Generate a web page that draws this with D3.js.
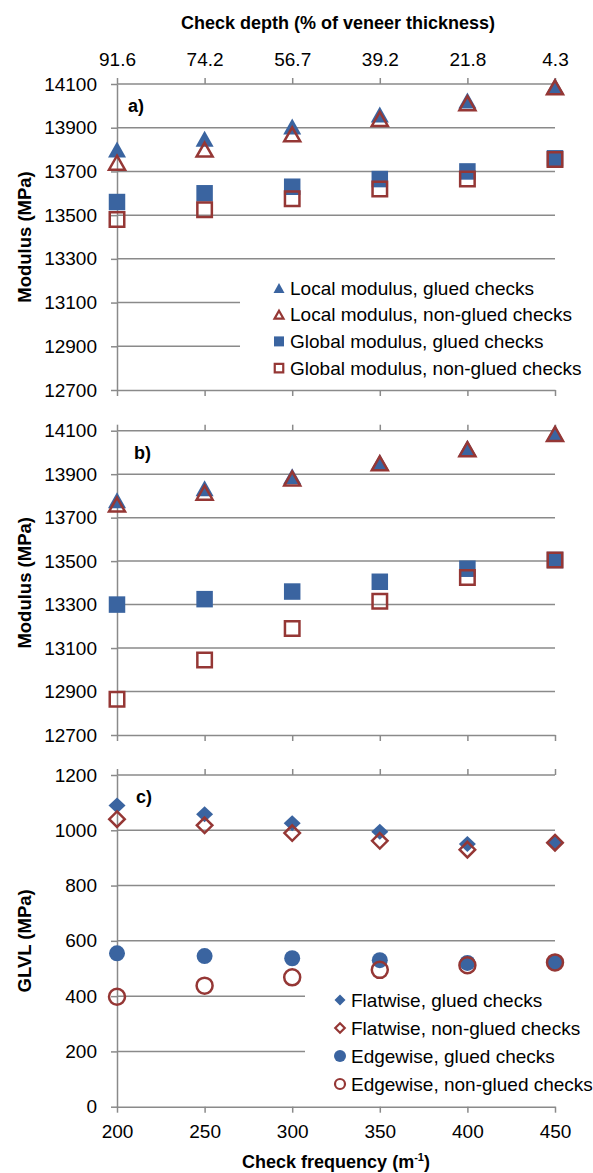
<!DOCTYPE html>
<html>
<head>
<meta charset="utf-8">
<script src="https://cdn.jsdelivr.net/npm/d3@7"></script>
<style>
  body { margin: 0; background: #fff; }
  text { font-family: "Liberation Sans", Arial, sans-serif; fill: #000; }
</style>
</head>
<body>
<div id="chart"></div>
<script>
// categories
var freq = [200, 250, 300, 350, 400, 450];
var depthLabels = ["91.6", "74.2", "56.7", "39.2", "21.8", "4.3"];

// panel a) modulus
var aLocalGlued    = [13800, 13850, 13905, 13960, 14025, 14090];
var aLocalNonGlued = [13740, 13800, 13870, 13940, 14012, 14085];
var aGlobalGlued   = [13560, 13600, 13630, 13665, 13700, 13760];
var aGlobalNonGlued= [13480, 13525, 13575, 13620, 13665, 13755];

// panel b) modulus
var bLocalGlued    = [13780, 13835, 13890, 13955, 14020, 14088];
var bLocalNonGlued = [13760, 13815, 13880, 13950, 14015, 14085];
var bGlobalGlued   = [13300, 13325, 13360, 13405, 13465, 13505];
var bGlobalNonGlued= [12865, 13045, 13190, 13315, 13425, 13505];

// panel c) GLVL
var cFlatGlued     = [1090, 1058, 1025, 995, 950, 955];
var cFlatNonGlued  = [1040, 1018, 990, 962, 930, 955];
var cEdgeGlued     = [555, 545, 537, 530, 520, 522];
var cEdgeNonGlued  = [398, 438, 468, 495, 512, 522];

var modTicks  = [12700, 12900, 13100, 13300, 13500, 13700, 13900, 14100];
var glvlTicks = [0, 200, 400, 600, 800, 1000, 1200];

var modLegend  = ["Local modulus, glued checks", "Local modulus, non-glued checks",
                  "Global modulus, glued checks", "Global modulus, non-glued checks"];
var glvlLegend = ["Flatwise, glued checks", "Flatwise, non-glued checks",
                  "Edgewise, glued checks", "Edgewise, non-glued checks"];

var BLUE = "#3a64a0", RED = "#953735", GRID = "#8a8a8a";

function triPath(w, h) {
  return "M0," + (-h/2) + " L" + (w/2) + "," + (h/2) + " L" + (-w/2) + "," + (h/2) + " Z";
}
function sqPath(s) {
  return "M" + (-s/2) + "," + (-s/2) + " h" + s + " v" + s + " h" + (-s) + " Z";
}
function diaPath(w, h) {
  return "M0," + (-h/2) + " L" + (w/2) + ",0 L0," + (h/2) + " L" + (-w/2) + ",0 Z";
}
function circPath(r) {
  return "M" + (-r) + ",0 a" + r + "," + r + " 0 1,0 " + (2*r) + ",0 a" + r + "," + r + " 0 1,0 " + (-2*r) + ",0 Z";
}

var shapes = {
  triF: { d: triPath(18, 16), fill: BLUE, stroke: "none", lg: triPath(11, 10) },
  triO: { d: triPath(16, 14), fill: "none", stroke: RED, lg: triPath(9, 8) },
  sqF:  { d: sqPath(16.5), fill: BLUE, stroke: "none", lg: sqPath(10) },
  sqO:  { d: sqPath(14.5), fill: "none", stroke: RED, lg: sqPath(8.5) },
  diaF: { d: diaPath(17, 16), fill: BLUE, stroke: "none", lg: diaPath(11, 11) },
  diaO: { d: diaPath(15.5, 15.5), fill: "none", stroke: RED, lg: diaPath(9.5, 9.5) },
  cirF: { d: circPath(8), fill: BLUE, stroke: "none", lg: circPath(6) },
  cirO: { d: circPath(8), fill: "none", stroke: RED, lg: circPath(5) }
};

var W = 593, H = 1173;
var svg = d3.select("#chart").append("svg")
  .attr("width", W).attr("height", H);

var x = d3.scaleLinear().domain([200, 450]).range([117, 555]);

var panels = [
  { top: 84, bottom: 390, ticks: modTicks, label: "Modulus (MPa)", tag: "a)", tagX: 128,
    series: [[aLocalGlued, "triF"], [aLocalNonGlued, "triO"], [aGlobalGlued, "sqF"], [aGlobalNonGlued, "sqO"]],
    legend: modLegend, lgBox: [240, 268, 353, 116], lgX: 279, lgY: 288, lgStep: 26.7,
    topLabels: true, bottomLabels: false },
  { top: 430.7, bottom: 735, ticks: modTicks, label: "Modulus (MPa)", tag: "b)", tagX: 134,
    series: [[bLocalGlued, "triF"], [bLocalNonGlued, "triO"], [bGlobalGlued, "sqF"], [bGlobalNonGlued, "sqO"]],
    legend: null, topLabels: false, bottomLabels: false },
  { top: 775, bottom: 1106.7, ticks: glvlTicks, label: "GLVL (MPa)", tag: "c)", tagX: 136,
    series: [[cFlatGlued, "diaF"], [cFlatNonGlued, "diaO"], [cEdgeGlued, "cirF"], [cEdgeNonGlued, "cirO"]],
    legend: glvlLegend, lgBox: [305, 962, 288, 138], lgX: 340, lgY: 1000, lgStep: 28,
    topLabels: false, bottomLabels: true }
];

function styleAxis(g) {
  g.selectAll(".domain").attr("stroke", GRID).attr("stroke-width", 1.5);
  g.selectAll(".tick line").attr("stroke", GRID).attr("stroke-width", 1.5);
  g.selectAll(".tick text").attr("font-size", 19).attr("font-family", "Liberation Sans, Arial, sans-serif");
}

panels.forEach(function (p) {
  var ext = d3.extent(p.ticks);
  var y = d3.scaleLinear().domain(ext).range([p.bottom, p.top]);
  var g = svg.append("g");

  // gridlines
  g.append("g").selectAll("line")
    .data(p.ticks.slice(1))
    .enter().append("line")
      .attr("x1", x(200)).attr("x2", x(450))
      .attr("y1", function (d) { return y(d); })
      .attr("y2", function (d) { return y(d); })
      .attr("stroke", GRID).attr("stroke-width", 1.5);

  // legend background hides the grid behind it
  if (p.legend) {
    g.append("rect")
      .attr("x", p.lgBox[0]).attr("y", p.lgBox[1])
      .attr("width", p.lgBox[2]).attr("height", p.lgBox[3])
      .attr("fill", "#fff");
  }

  // axes
  var left = g.append("g").attr("transform", "translate(" + x(200) + ",0)")
    .call(d3.axisLeft(y).tickValues(p.ticks).tickSize(6).tickSizeOuter(0).tickPadding(14)
      .tickFormat(d3.format("d")));
  styleAxis(left);

  var bottom = g.append("g").attr("transform", "translate(0," + p.bottom + ")")
    .call(d3.axisBottom(x).tickValues(freq).tickSize(6).tickSizeOuter(0).tickPadding(12)
      .tickFormat(p.bottomLabels ? d3.format("d") : ""));
  styleAxis(bottom);

  var top = g.append("g").attr("transform", "translate(0," + p.top + ")")
    .call(d3.axisTop(x).tickValues(freq).tickSize(6).tickSizeOuter(0).tickPadding(12)
      .tickFormat(function (d, i) { return p.topLabels ? depthLabels[i] : ""; }));
  styleAxis(top);
  top.select(".domain").remove();

  // y title
  g.append("text")
    .attr("transform", "translate(25," + ((p.top + p.bottom) / 2) + ") rotate(-90)")
    .attr("dy", "0.35em")
    .attr("text-anchor", "middle")
    .attr("font-size", 18.5).attr("font-weight", "bold")
    .text(p.label);

  // panel tag
  g.append("text")
    .attr("x", p.tagX).attr("y", p.top + 28)
    .attr("font-size", 18).attr("font-weight", "bold")
    .text(p.tag);

  // markers
  p.series.forEach(function (s) {
    var sh = shapes[s[1]];
    g.append("g").selectAll("path")
      .data(s[0])
      .enter().append("path")
        .attr("transform", function (d, i) { return "translate(" + x(freq[i]) + "," + y(d) + ")"; })
        .attr("d", sh.d)
        .attr("fill", sh.fill)
        .attr("stroke", sh.stroke)
        .attr("stroke-width", 2.5);
  });

  // legend
  if (p.legend) {
    var lg = g.append("g");
    p.legend.forEach(function (txt, i) {
      var sh = shapes[p.series[i][1]];
      var ly = p.lgY + i * p.lgStep;
      lg.append("path")
        .attr("transform", "translate(" + p.lgX + "," + ly + ")")
        .attr("d", sh.lg)
        .attr("fill", sh.fill === "none" ? "#fff" : sh.fill)
        .attr("stroke", sh.stroke)
        .attr("stroke-width", 2.2);
      lg.append("text")
        .attr("x", p.lgX + 11).attr("y", ly).attr("dy", "0.35em")
        .attr("font-size", 19)
        .text(txt);
    });
  }
});

// top title
svg.append("text")
  .attr("x", 338).attr("y", 29)
  .attr("text-anchor", "middle")
  .attr("font-size", 18).attr("font-weight", "bold")
  .text("Check depth (% of veneer thickness)");

// bottom title
var bt = svg.append("text")
  .attr("x", 336).attr("y", 1168)
  .attr("text-anchor", "middle")
  .attr("font-size", 18).attr("font-weight", "bold");
bt.append("tspan").text("Check frequency (m");
bt.append("tspan").attr("font-size", 11).attr("dy", -7).text("-1");
bt.append("tspan").attr("dy", 7).text(")");
</script>
</body>
</html>
